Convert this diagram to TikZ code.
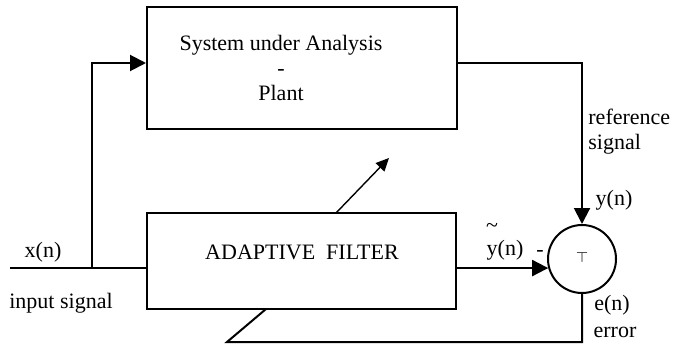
\documentclass[tikz,border=0pt]{standalone}
\usepackage{fontspec}
\setmainfont{Liberation Serif}
\usetikzlibrary{positioning,arrows.meta,calc}
\tikzstyle{block} = [rectangle, draw, line width=1pt, inner sep=0pt]
\tikzstyle{sumnode} = [circle, draw, line width=1pt, inner sep=0pt, minimum size=34pt]
\tikzstyle{line} = [draw, line width=1pt, -{Triangle[length=8pt,width=8pt]}]
\tikzstyle{wire} = [draw, line width=1pt]
\tikzstyle{lbl} = [inner sep=0pt, font=\fontsize{11}{12.5}\selectfont]

\begin{document}
\begin{tikzpicture}[x=0.5pt, y=-0.5pt]
    \useasboundingbox (0,0) rectangle (673,353);
    % Blocks
    \node [block, minimum width=155pt, minimum height=61pt] (plant) at (302,68) {};
    \node [lbl, align=center] (planttext) at (281,68) {System under Analysis\\-\\Plant};
    \node [block, minimum width=154.5pt, minimum height=48pt] (filter) at (301.5,261) {};
    \node [lbl] (filtertext) at (302,252) {ADAPTIVE\ \ FILTER};
    \node [sumnode] (sum) at (582,259) {};
    \node [lbl, font=\scriptsize] (sign) at (582,258) {$\top$};
    % Points
    \coordinate (in) at (10,268);
    \coordinate (split) at (92,268);
    \coordinate (tail) at (227,342);
    \coordinate (adapt) at (266,309);
    \coordinate (tune) at (336,213);
    \coordinate (tunetip) at (389,158);
    % Labels
    \node [lbl] (xn) at (43,252) {x(n)};
    \node [lbl] (insig) at (61,303) {input signal};
    \node [lbl, anchor=west, align=left] (refsig) at (588,132) {reference\\signal};
    \node [lbl] (yn) at (614,200) {y(n)};
    \node [lbl] (tilde) at (492,228) {\textasciitilde};
    \node [lbl] (yest) at (505,250) {y(n)};
    \node [lbl] (minus) at (540,253) {-};
    \node [lbl] (en) at (612,305) {e(n)};
    \node [lbl] (err) at (615,332) {error};
    % Lines
    \path [wire] (in) -- (in -| filter.west);
    \path [line] (split) |- ($(plant.west)+(0,-5)$);
    \path [line] ($(plant.east)+(0,-5)$) -| (sum.north);
    \path [line] (filter.east |- sum.195) -- (sum.195);
    \path [wire] (sum.south) |- (tail) -- (adapt);
    \path [draw, line width=0.7pt, -{Triangle[length=6.5pt,width=6pt]}] (tune) -- (tunetip);
\end{tikzpicture}
\end{document}
